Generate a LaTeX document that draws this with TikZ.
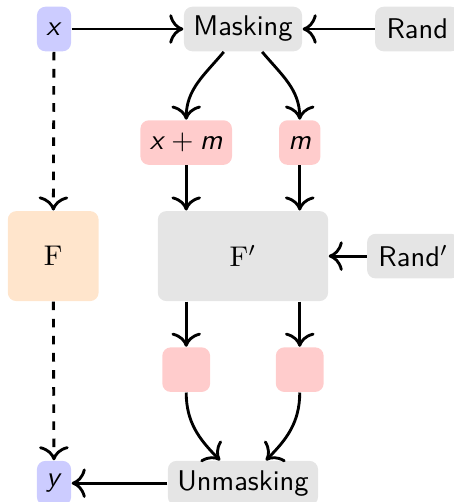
\documentclass[tikz,border=0pt]{standalone}
\usepackage{amsmath}
\usepackage{tikz}
\usetikzlibrary{arrows,arrows.meta,positioning,calc}

\tikzset{
  block/.style={rounded corners=3pt, inner sep=3.3pt, minimum height=5.5mm, font=\sffamily},
  varbox/.style={block, fill=blue!20},
  opbox/.style={block, fill=black!10},
  maskbox/.style={block, fill=red!20},
  flow/.style={-{To[scale=1.3]}, line width=1pt},
}

\begin{document}
\begin{tikzpicture}
  \useasboundingbox (-2.996, 0.358) rectangle (2.602, -5.832);

  % Input and masking stage
  \node[varbox] (x) at (-2.33, 0) {\textit{x}};
  \node[opbox] (masking) at (0, 0) {Masking};
  \node[opbox, inner xsep=4pt] (rand) at (2.15, 0) {Rand};
  \node[maskbox] (xm) at (-0.7, -1.4) {\textit{x}\:+\:\textit{m}};
  \node[maskbox] (m) at (0.7, -1.4) {\textit{m}};

  % Original and masked function
  \node[block, fill=orange!20, minimum width=1.12cm, minimum height=1.11cm] (F) at (-2.34, -2.8) {\rmfamily F};
  \node[opbox, minimum width=2.1cm, minimum height=1.11cm] (Fp) at (0, -2.8) {$\mathrm{F}'$};
  \node[opbox, inner xsep=4pt] (randp) at (2.1, -2.8) {Rand$'$};

  % Outputs and unmasking stage
  \node[maskbox, minimum width=5.9mm] (outl) at (-0.7, -4.2) {};
  \node[maskbox, minimum width=5.9mm] (outr) at (0.7, -4.2) {};
  \node[varbox] (y) at (-2.33, -5.6) {\textit{y}};
  \node[opbox] (unmasking) at (0, -5.6) {Unmasking};

  % Connections
  \draw[flow] (x) -- (masking);
  \draw[flow] (rand) -- (masking);
  \draw[flow] (masking) to[out=-130, in=90] (xm);
  \draw[flow] (masking) to[out=-50, in=90] (m);
  \draw[flow] (xm) -- (xm |- Fp.north);
  \draw[flow] (m) -- (m |- Fp.north);
  \draw[flow] (randp) -- (Fp);
  \draw[flow] (outl |- Fp.south) -- (outl);
  \draw[flow] (outr |- Fp.south) -- (outr);
  \draw[flow] (outl) to[out=-90, in=135] (unmasking);
  \draw[flow] (outr) to[out=-90, in=45] (unmasking);
  \draw[flow] (unmasking) -- (y);

  % Direct path
  \draw[flow, dashed] (x) -- (F);
  \draw[flow, dashed] (F) -- (y);
\end{tikzpicture}
\end{document}
